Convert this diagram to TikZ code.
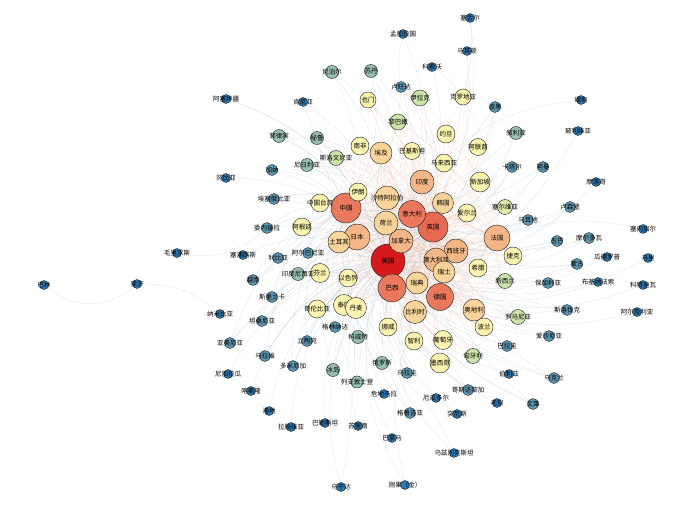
\documentclass[tikz,border=0pt]{standalone}
\usepackage{fontspec}
\setmainfont{Noto Sans CJK SC}
\usepackage{xcolor}
\usepackage{tikz}

\pgfdeclarelayer{bg}
\pgfsetlayers{bg,main}

\definecolor{deg0}{RGB}{43,123,185}
\definecolor{deg1}{RGB}{92,152,180}
\definecolor{deg2}{RGB}{150,192,176}
\definecolor{deg3}{RGB}{202,228,170}
\definecolor{deg4}{RGB}{252,243,176}
\definecolor{deg5}{RGB}{249,212,154}
\definecolor{deg6}{RGB}{245,182,135}
\definecolor{deg7}{RGB}{233,120,92}
\definecolor{deg8}{RGB}{215,25,28}
\definecolor{linkcool}{RGB}{150,178,200}
\definecolor{linkhot}{RGB}{238,140,100}

\def\corelist{us,cn,gb,de,br,it,fr,jp,ca,es,ind,au,nl,sa,tr,eg,se,ch,be,kr,aut}
\def\midlist{ir,tw,ar,fi,il,th,dk,co,no,cl,pt,mx,pl,gr,cz,sg,ie,my,jo,ae,pk,za,ye,hr,lb,si,iq,ro,nz,hu,rs}
\def\lowlist{np,pe,ph,sd,sy,idn,kw,isl,ru,lie,ng,rw,gh,et,ve,ly,al,lk,tz,gd,lt,mw,dom,uy,ge,cr,bn,py,ee,sk,bg,cu,md,mn,mt,lu,qa,om,ba,vn,am,ua}
\def\leaflist{az,ke,gm,cy,ni,cm,ht,lv,ps,ug,gt,sr,pa,ecu,tn,uz,cod,la,bz,dz,ci,bf,ml,gp,ma,sc,bd,mk,xk}

\begin{document}
\begin{tikzpicture}[
    x=1pt, y=-1pt,
    ctry/.style={circle, draw=black!85, line width=0.45pt, inner sep=0pt},
    lbl/.style={font=\fontsize{6.5}{7}\selectfont, inner sep=0pt, text=black},
    k0/.style={ctry, fill=deg0, minimum size=9pt},
    k1/.style={ctry, fill=deg1, minimum size=11pt},
    k2/.style={ctry, fill=deg2, minimum size=13pt},
    k3/.style={ctry, fill=deg3, minimum size=15pt},
    k4/.style={ctry, fill=deg4, minimum size=18pt},
    k5/.style={ctry, fill=deg5, minimum size=22pt},
    k6/.style={ctry, fill=deg6, minimum size=24pt},
    k7/.style={ctry, fill=deg7, minimum size=27pt},
    k8/.style={ctry, fill=deg8, minimum size=34pt},
    hot/.style={draw=linkhot, opacity=0.17, line width=0.35pt},
    cool/.style={draw=linkcool, opacity=0.3, line width=0.35pt}
  ]
  \useasboundingbox (0,0) rectangle (700,513);

  % biggest
  \node[k8, label={[lbl]center:美国}] (us) at (388,261) {};
  \node[k7, minimum size=30pt, label={[lbl]center:中国}] (cn) at (346,208) {};
  \node[k7, minimum size=30pt, fill=deg7!85!deg8, label={[lbl]center:英国}] (gb) at (433,227) {};
  \node[k7, minimum size=28pt, label={[lbl]center:巴西}] (br) at (392,288) {};
  \node[k7, label={[lbl]center:德国}] (de) at (440,297) {};
  \node[k7, label={[lbl]center:意大利}] (it) at (412,214) {};

  \node[k6, minimum size=26pt, label={[lbl]center:法国}] (fr) at (497,238) {};
  \node[k6, minimum size=26pt, label={[lbl]center:日本}] (jp) at (357,237) {};
  \node[k6, label={[lbl]center:加拿大}] (ca) at (401,241) {};
  \node[k6, label={[lbl]center:西班牙}] (es) at (456,251) {};
  \node[k6, label={[lbl]center:印度}] (ind) at (422,182) {};
  \node[k6, label={[lbl]center:澳大利亚}] (au) at (436,260) {};

  \node[k5, minimum size=24pt, label={[lbl]center:荷兰}] (nl) at (386,223) {};
  \node[k5, minimum size=24pt, label={[lbl]center:沙特阿拉伯}] (sa) at (387,198) {};
  \node[k5, label={[lbl]center:土耳其}] (tr) at (339,242) {};
  \node[k5, label={[lbl]center:埃及}] (eg) at (381,153) {};
  \node[k5, label={[lbl]center:瑞典}] (se) at (417,283) {};
  \node[k5, label={[lbl]center:瑞士}] (ch) at (444,272) {};
  \node[k5, minimum size=23pt, label={[lbl]center:比利时}] (be) at (415,312) {};
  \node[k5, minimum size=21pt, label={[lbl]center:韩国}] (kr) at (443,203) {};
  \node[k5, label={[lbl]center:奥地利}] (aut) at (474,310) {};

  % middle
  \node[k4, label={[lbl]center:伊朗}] (ir) at (358,192) {};
  \node[k4, label={[lbl]center:中国台湾}] (tw) at (320,203) {};
  \node[k4, label={[lbl]center:阿根廷}] (ar) at (302,227) {};
  \node[k4, minimum size=19pt, label={[lbl]center:芬兰}] (fi) at (320,273) {};
  \node[k4, label={[lbl]center:以色列}] (il) at (348,278) {};
  \node[k4, minimum size=21pt, label={[lbl]center:泰国}] (th) at (344,305) {};
  \node[k4, minimum size=21pt, label={[lbl]center:丹麦}] (dk) at (356,308) {};
  \node[k4, label={[lbl]center:哥伦比亚}] (co) at (317,309) {};
  \node[k4, label={[lbl]center:挪威}] (no) at (388,327) {};
  \node[k4, label={[lbl]center:智利}] (cl) at (414,341) {};
  \node[k4, minimum size=19pt, label={[lbl]center:葡萄牙}] (pt) at (443,340) {};
  \node[k4, minimum size=20pt, label={[lbl]center:墨西哥}] (mx) at (440,363) {};
  \node[k4, label={[lbl]center:波兰}] (pl) at (484,327) {};
  \node[k4, label={[lbl]center:希腊}] (gr) at (478,268) {};
  \node[k4, label={[lbl]center:捷克}] (cz) at (513,256) {};
  \node[k4, minimum size=20pt, label={[lbl]center:新加坡}] (sg) at (480,182) {};
  \node[k4, label={[lbl]center:爱尔兰}] (ie) at (467,213) {};
  \node[k4, label={[lbl]center:马来西亚}] (my) at (444,163) {};
  \node[k4, label={[lbl]center:约旦}] (jo) at (446,134) {};
  \node[k4, minimum size=17pt, label={[lbl]center:阿联酋}] (ae) at (478,147) {};
  \node[k4, minimum size=17pt, label={[lbl]center:巴基斯坦}] (pk) at (412,151) {};
  \node[k4, label={[lbl]center:南非}] (za) at (360,146) {};
  \node[k4, minimum size=16pt, label={[lbl]center:也门}] (ye) at (368,100) {};
  \node[k4, minimum size=16pt, label={[lbl]center:克罗地亚}] (hr) at (463,97) {};
  \node[k3, minimum size=16pt, label={[lbl]center:黎巴嫩}] (lb) at (398,122) {};
  \node[k3, label={[lbl]center:斯洛文尼亚}] (si) at (336,158) {};
  \node[k3, minimum size=16pt, label={[lbl]center:伊拉克}] (iq) at (420,98) {};
  \node[k3, label={[lbl]center:罗马尼亚}] (ro) at (518,317) {};
  \node[k3, label={[lbl]center:新西兰}] (nz) at (505,281) {};
  \node[k3, label={[lbl]center:匈牙利}] (hu) at (473,356) {};
  \node[k3, fill=deg3!60!deg4, label={[lbl]center:塞尔维亚}] (rs) at (505,207) {};

  % small
  \node[k2, label={[lbl]center:尼泊尔}] (np) at (332,72) {};
  \node[k2, label={[lbl]center:秘鲁}] (pe) at (317,138) {};
  \node[k2, label={[lbl]center:菲律宾}] (ph) at (279,136) {};
  \node[k2, label={[lbl]center:苏丹}] (sd) at (371,71) {};
  \node[k2, label={[lbl]center:叙利亚}] (sy) at (516,133) {};
  \node[k2, label={[lbl]center:印度尼西亚}] (idn) at (298,274) {};
  \node[k2, label={[lbl]center:科威特}] (kw) at (358,337) {};
  \node[k2, label={[lbl]center:冰岛}] (isl) at (333,370) {};
  \node[k2, label={[lbl]center:俄罗斯}] (ru) at (382,363) {};
  \node[k2, minimum size=12pt, label={[lbl]center:列支敦士登}] (lie) at (357,382) {};
  \node[k2, label={[lbl]center:尼日利亚}] (ng) at (307,165) {};

  \node[k1, label={[lbl]center:卢旺达}] (rw) at (401,87) {};
  \node[k1, label={[lbl]center:加纳}] (gh) at (272,170) {};
  \node[k1, label={[lbl]center:埃塞俄比亚}] (et) at (274,199) {};
  \node[k1, label={[lbl]center:委内瑞拉}] (ve) at (267,228) {};
  \node[k1, label={[lbl]center:利比亚}] (ly) at (278,258) {};
  \node[k1, label={[lbl]center:阿尔巴尼亚}] (al) at (308,253) {};
  \node[k1, label={[lbl]center:斯里兰卡}] (lk) at (272,297) {};
  \node[k1, label={[lbl]center:坦桑尼亚}] (tz) at (262,321) {};
  \node[k1, label={[lbl]center:格林纳达}] (gd) at (335,327) {};
  \node[k1, label={[lbl]center:立陶宛}] (lt) at (307,341) {};
  \node[k1, label={[lbl]center:马拉维}] (mw) at (265,356) {};
  \node[k1, label={[lbl]center:多米尼加}] (dom) at (293,366) {};
  \node[k1, label={[lbl]center:乌拉圭}] (uy) at (407,373) {};
  \node[k1, label={[lbl]center:格鲁吉亚}] (ge) at (410,413) {};
  \node[k1, label={[lbl]center:哥斯达黎加}] (cr) at (468,390) {};
  \node[k1, label={[lbl]center:文莱}] (bn) at (533,404) {};
  \node[k1, label={[lbl]center:巴拉圭}] (py) at (507,346) {};
  \node[k1, label={[lbl]center:爱沙尼亚}] (ee) at (549,336) {};
  \node[k1, label={[lbl]center:斯洛伐克}] (sk) at (567,310) {};
  \node[k1, label={[lbl]center:保加利亚}] (bg) at (548,283) {};
  \node[k1, label={[lbl]center:古巴}] (cu) at (557,241) {};
  \node[k1, label={[lbl]center:摩尔多瓦}] (md) at (589,238) {};
  \node[k1, label={[lbl]center:蒙古}] (mn) at (577,264) {};
  \node[k1, label={[lbl]center:马耳他}] (mt) at (528,220) {};
  \node[k1, label={[lbl]center:卢森堡}] (lu) at (570,207) {};
  \node[k1, label={[lbl]center:卡塔尔}] (qa) at (512,167) {};
  \node[k1, label={[lbl]center:阿曼}] (om) at (543,167) {};
  \node[k1, label={[lbl]center:波黑}] (ba) at (495,107) {};
  \node[k1, label={[lbl]center:越南}] (vn) at (253,280) {};
  \node[k1, label={[lbl]center:亚美尼亚}] (am) at (230,343) {};
  \node[k1, label={[lbl]center:乌克兰}] (ua) at (554,378) {};

  % leaves
  \node[k0, label={[lbl]center:阿塞拜疆}] (az) at (226,99) {};
  \node[k0, label={[lbl]center:肯尼亚}] (ke) at (303,102) {};
  \node[k0, label={[lbl]center:冈比亚}] (gm) at (226,178) {};
  \node[k0, label={[lbl]center:毛里求斯}] (mu) at (177,253) {};
  \node[k0, label={[lbl]center:塞浦路斯}] (cy) at (243,255) {};
  \node[k0, label={[lbl]center:巴林}] (bh) at (44,285) {};
  \node[k0, label={[lbl]center:斐济}] (fj) at (137,284) {};
  \node[k0, label={[lbl]center:纳米比亚}] (na) at (220,314) {};
  \node[k0, label={[lbl]center:尼加拉瓜}] (ni) at (228,374) {};
  \node[k0, label={[lbl]center:喀麦隆}] (cm) at (251,391) {};
  \node[k0, label={[lbl]center:海地}] (ht) at (269,411) {};
  \node[k0, label={[lbl]center:拉脱维亚}] (lv) at (291,427) {};
  \node[k0, label={[lbl]center:巴勒斯坦}] (ps) at (325,423) {};
  \node[k0, label={[lbl]center:乌干达}] (ug) at (341,487) {};
  \node[k0, label={[lbl]center:危地马拉}] (gt) at (384,394) {};
  \node[k0, label={[lbl]center:苏里南}] (sr) at (358,426) {};
  \node[k0, label={[lbl]center:巴拿马}] (pa) at (392,438) {};
  \node[k0, label={[lbl]center:厄瓜多尔}] (ecu) at (436,398) {};
  \node[k0, label={[lbl]center:突尼斯}] (tn) at (457,414) {};
  \node[k0, label={[lbl]center:乌兹别克斯坦}] (uz) at (454,453) {};
  \node[k0, label={[lbl]center:刚果（金）}] (cod) at (405,485) {};
  \node[k0, label={[lbl]center:老挝}] (la) at (497,403) {};
  \node[k0, label={[lbl]center:伯利兹}] (bz) at (509,374) {};
  \node[k0, label={[lbl]center:阿尔及利亚}] (dz) at (637,312) {};
  \node[k0, label={[lbl]center:科特迪瓦}] (ci) at (643,285) {};
  \node[k0, label={[lbl]center:布基纳法索}] (bf) at (598,282) {};
  \node[k0, label={[lbl]center:马里}] (ml) at (648,258) {};
  \node[k0, label={[lbl]center:瓜德罗普}] (gp) at (607,257) {};
  \node[k0, label={[lbl]center:塞内加尔}] (sn) at (643,229) {};
  \node[k0, label={[lbl]center:摩洛哥}] (ma) at (596,182) {};
  \node[k0, label={[lbl]center:玻利维亚}] (bo) at (578,131) {};
  \node[k0, label={[lbl]center:缅甸}] (mm) at (581,100) {};
  \node[k0, label={[lbl]center:塞舌尔}] (sc) at (470,18) {};
  \node[k0, label={[lbl]center:孟加拉国}] (bd) at (403,34) {};
  \node[k0, label={[lbl]center:马其顿}] (mk) at (467,51) {};
  \node[k0, label={[lbl]center:科索沃}] (xk) at (432,67) {};

  % links
  \begin{pgfonlayer}{bg}
    \foreach \a [count=\i] in \corelist {
      \foreach \b [count=\j] in \corelist {
        \ifnum\j>\i \draw[hot] (\a) to[bend left=12] (\b); \fi
      }
    }
    \foreach \a in \midlist {
      \foreach \b in {us,cn,gb,de,br,it,fr}
        \draw[hot] (\a) to[bend left=14] (\b);
    }
    \foreach \a in \lowlist {
      \foreach \b in {us,gb,cn}
        \draw[cool] (\a) to[bend left=20] (\b);
    }
    \foreach \a in \leaflist
      \draw[cool] (\a) to[bend left=25] (us);

    \draw[cool] (bh) to[bend right=40] (fj);
    \draw[cool] (fj) to[bend left=20] (na);
    \draw[cool] (mu) to[bend right=25] (ve);
    \draw[cool] (az) to[bend left=15] (ir);
    \draw[cool] (mm) to[bend right=20] (ind);
    \draw[cool] (bo) to[bend left=20] (br);
    \draw[cool] (sc) to[bend left=10] (hr);
    \draw[cool] (bd) to[bend right=10] (rw);
    \draw[cool] (mk) to[bend left=10] (hr);
    \draw[cool] (xk) to[bend left=10] (hr);
    \draw[cool] (sn) to[bend right=15] (fr);
    \draw[cool] (ug) to[bend right=15] (ke);
    \draw[cool] (cod) to[bend left=15] (be);
    \draw[cool] (uz) to[bend right=15] (ru);
  \end{pgfonlayer}
\end{tikzpicture}
\end{document}
